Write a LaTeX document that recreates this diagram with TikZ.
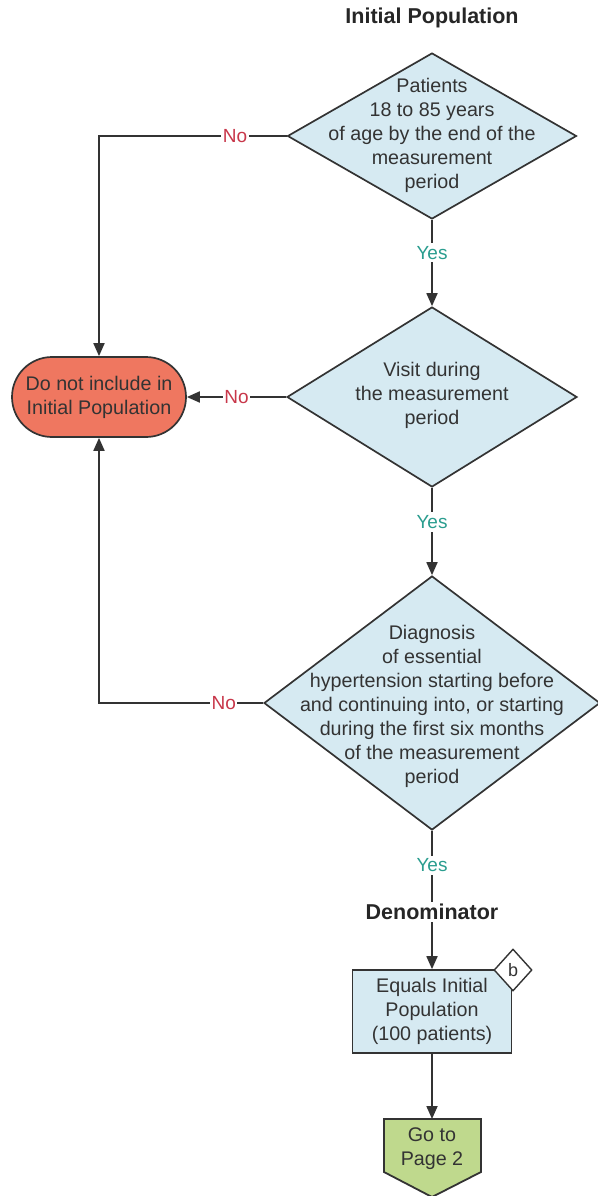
\documentclass[tikz,border=0pt]{standalone}
\usepackage{fontspec}
\setmainfont{Liberation Sans}
\usetikzlibrary{arrows.meta,shapes.geometric}
\definecolor{txt}{HTML}{333333}
\definecolor{decblue}{HTML}{D6EAF2}
\definecolor{termred}{HTML}{EF7760}
\definecolor{pggreen}{HTML}{BFD98D}
\definecolor{nored}{HTML}{C8374A}
\definecolor{yesteal}{HTML}{2A9D8F}
\begin{document}
\begin{tikzpicture}[x=1pt,y=-1pt,
  line/.style={draw=txt, line width=1.8pt},
  arr/.style={line, -{Triangle[length=13pt,width=11pt]}},
  dec/.style={diamond, draw=txt, line width=1.7pt, fill=decblue, inner sep=0pt},
  body/.style={text=txt, font=\fontsize{19.7}{24}\selectfont, align=center},
  title/.style={text=black!85, font=\fontsize{21.5}{26}\selectfont\bfseries},
  nolab/.style={fill=white, text=nored, font=\fontsize{19}{22}\selectfont, inner sep=1.5pt},
  yeslab/.style={fill=white, text=yesteal, font=\fontsize{19}{22}\selectfont, inner sep=3pt},
]
\useasboundingbox (0,0) rectangle (597,1196);

\node[title] (t1) at (432,18) {Initial Population};

\node[dec, minimum width=289pt, minimum height=166pt] (d1) at (432,136) {};
\node[body] (d1t) at (432,135) {Patients\\18 to 85 years\\of age by the end of the\\measurement\\period};

\node[dec, minimum width=290pt, minimum height=180pt] (d2) at (432,397) {};
\node[body] (d2t) at (432,395) {Visit during\\the measurement\\period};

\node[dec, minimum width=336pt, minimum height=254pt] (d3) at (432,703) {};
\node[body] (d3t) at (432,706) {Diagnosis\\of essential\\hypertension starting before\\and continuing into, or starting\\during the first six months\\of the measurement\\period};

\node[draw=txt, line width=1.7pt, fill=termred, rounded corners=40pt, minimum width=174pt, minimum height=80pt, body] (term) at (99,397) {Do not include in\\Initial Population};

\node[draw=txt, line width=1.7pt, fill=decblue, minimum width=159pt, minimum height=83pt, body] (box) at (432,1011.5) {Equals Initial\\Population\\(100 patients)};
\node[diamond, draw=txt, fill=white, line width=1.4pt, minimum width=38pt, minimum height=42pt, inner sep=0pt, text=txt, font=\fontsize{18}{18}\selectfont] (bmark) at (513,970) {b};

\coordinate (pgtop) at (432,1119);
\draw[line, fill=pggreen] (384,1119) -- (481,1119) -- (481,1172) -- (432,1197) -- (384,1172) -- cycle;
\node[body] (pg) at (432,1149) {Go to\\Page 2};

% Yes connectors
\draw[arr] (d1.south) -- node[yeslab, pos=0.38] {Yes} (d2.north);
\draw[arr] (d2.south) -- node[yeslab, pos=0.39] {Yes} (d3.north);
\draw[arr] (d3.south) -- node[yeslab, pos=0.25] {Yes} node[title, fill=white, inner sep=2pt, pos=0.585] (den) {Denominator} (box.north);
\draw[arr] (box.south) -- (pgtop);

% No connectors
\draw[arr] (d1.west) -- node[nolab, pos=0.275] {No} (term.north |- d1.west) -- (term.north);
\draw[arr] (d2.west) -- node[nolab, pos=0.5] {No} (term.east);
\draw[arr] (d3.west) -- node[nolab, pos=0.24] {No} (term.south |- d3.west) -- (term.south);

\end{tikzpicture}
\end{document}
